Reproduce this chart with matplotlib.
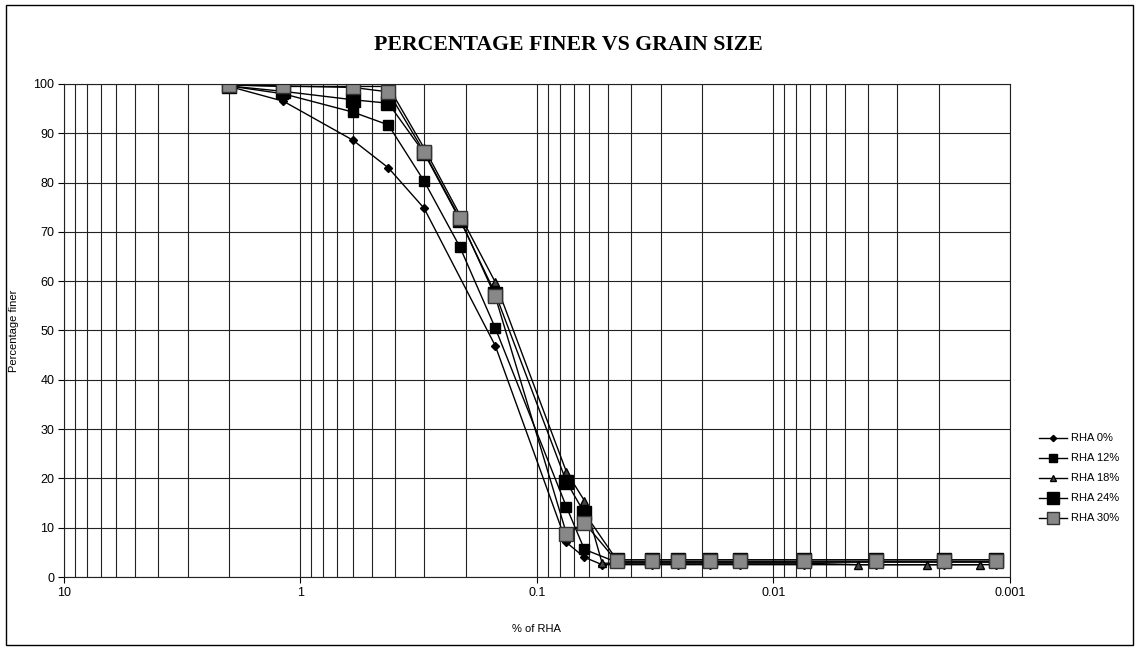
import matplotlib
matplotlib.use('Agg')
import matplotlib.pyplot as plt
from matplotlib.ticker import FixedLocator, LogLocator, NullFormatter
from matplotlib.patches import Rectangle

# grain size (mm) and percentage finer for each mix
x_0 = [2.0, 1.18, 0.6, 0.425, 0.3, 0.15, 0.075, 0.063, 0.053, 0.0327, 0.0253, 0.0186, 0.0139, 0.0074, 0.0037, 0.0019, 0.00114]
y_0 = [99.5, 96.5, 88.6, 83.0, 74.8, 46.9, 7.0, 4.0, 2.5, 2.5, 2.5, 2.5, 2.5, 2.5, 2.5, 2.5, 2.5]

x_12 = [2.0, 1.18, 0.6, 0.425, 0.3, 0.212, 0.15, 0.075, 0.063, 0.046, 0.0327, 0.0253, 0.0186, 0.0139, 0.0074, 0.0037, 0.0019, 0.00114]
y_12 = [99.6, 98.0, 94.3, 91.7, 80.3, 67.0, 50.5, 14.2, 5.6, 3.0, 3.0, 3.0, 3.0, 3.0, 3.0, 3.0, 3.0, 3.0]

x_18 = [2.0, 1.18, 0.6, 0.425, 0.3, 0.212, 0.15, 0.075, 0.063, 0.053, 0.0327, 0.0253, 0.0186, 0.0139, 0.0074, 0.0044, 0.00225, 0.00134]
y_18 = [99.8, 99.5, 99.5, 99.5, 87.0, 73.5, 59.8, 21.3, 15.5, 2.8, 2.8, 2.8, 2.8, 2.8, 2.8, 2.5, 2.5, 2.5]

x_24 = [2.0, 1.18, 0.6, 0.425, 0.3, 0.212, 0.15, 0.075, 0.063, 0.046, 0.0327, 0.0253, 0.0186, 0.0139, 0.0074, 0.0037, 0.0019, 0.00114]
y_24 = [99.6, 98.5, 96.8, 96.1, 86.0, 72.5, 57.5, 19.3, 13.0, 3.5, 3.5, 3.5, 3.5, 3.5, 3.5, 3.5, 3.5, 3.5]

x_30 = [2.0, 1.18, 0.6, 0.425, 0.3, 0.212, 0.15, 0.075, 0.063, 0.046, 0.0327, 0.0253, 0.0186, 0.0139, 0.0074, 0.0037, 0.0019, 0.00114]
y_30 = [99.8, 99.6, 99.3, 98.4, 86.2, 72.8, 56.9, 8.8, 11.0, 3.2, 3.2, 3.2, 3.2, 3.2, 3.2, 3.2, 3.2, 3.2]

labels = ['RHA 0%', 'RHA 12%', 'RHA 18%', 'RHA 24%', 'RHA 30%']
x_ticks = [10, 1, 0.1, 0.01, 0.001]
x_tick_labels = ['10', '1', '0.1', '0.01', '0.001']
y_ticks = list(range(0, 101, 10))

fig = plt.figure(figsize=(11.36, 6.5), dpi=100)
ax = fig.add_axes([0.0563, 0.1123, 0.8327, 0.7585])

# marker style per series
ax.plot(x_0, y_0, color='black', lw=1, marker='D', ms=4, mfc='black', mec='black', label=labels[0])
ax.plot(x_12, y_12, color='black', lw=1, marker='s', ms=7, mfc='black', mec='black', label=labels[1])
ax.plot(x_18, y_18, color='black', lw=1, marker='^', ms=6, mfc='#444444', mec='black', label=labels[2])
ax.plot(x_24, y_24, color='black', lw=1, marker='s', ms=10, mfc='black', mec='black', label=labels[3])
ax.plot(x_30, y_30, color='black', lw=1, marker='s', ms=10, mfc='#888888', mec='#333333', label=labels[4])

ax.set_xscale('log')
ax.set_xlim(10, 0.001)
ax.set_ylim(0, 100)

ax.xaxis.set_major_locator(FixedLocator(x_ticks))
ax.set_xticklabels(x_tick_labels)
ax.xaxis.set_minor_locator(LogLocator(base=10, subs=range(2, 10), numticks=20))
ax.xaxis.set_minor_formatter(NullFormatter())
ax.set_yticks(y_ticks)

ax.grid(which='major', color='#222222', lw=0.8)
ax.grid(which='minor', axis='x', color='#222222', lw=0.8)
ax.tick_params(axis='both', which='major', direction='out', length=4, labelsize=9, pad=3)
ax.tick_params(axis='x', which='minor', length=0)
for lab in ax.get_xticklabels() + ax.get_yticklabels():
    lab.set_family('Liberation Sans')
for s in ax.spines.values():
    s.set_color('#222222')
    s.set_linewidth(0.8)

# title is centred on the whole chart, not on the plot area
fig.text(0.5, 0.930, 'PERCENTAGE FINER VS GRAIN SIZE', family='Liberation Serif',
         fontweight='bold', fontsize=15.7, ha='center', va='center')
ax.set_xlabel('% of RHA', family='Liberation Sans', fontsize=8, labelpad=18)
ax.set_ylabel('Percentage finer', family='Liberation Sans', fontsize=8, labelpad=10)

ax.legend(loc='center left', bbox_to_anchor=(1.02, 0.2), frameon=False,
          prop={'family': 'Liberation Sans', 'size': 8}, handlelength=2.5,
          handletextpad=0.4, labelspacing=0.9, markerscale=0.8)

# border round the whole chart
fig.patches.append(Rectangle((0.005, 0.008), 0.992, 0.985, transform=fig.transFigure,
                             fill=False, edgecolor='black', lw=1))

plt.savefig('out.png', dpi=100)
